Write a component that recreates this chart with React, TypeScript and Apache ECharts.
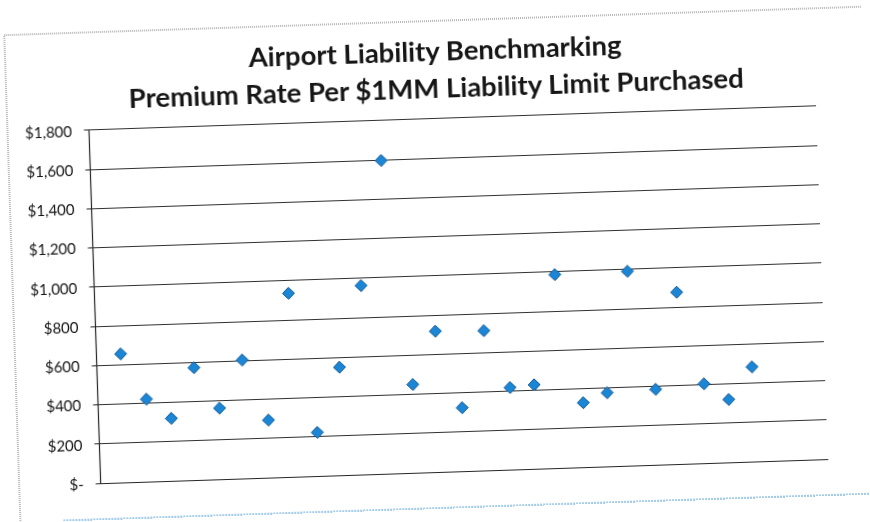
import React, { useEffect, useRef } from "react";
import * as echarts from "echarts";

// Airport sequence number on the (hidden) horizontal value axis
const airportIndex = [
  1, 2, 3, 4, 5, 6, 7, 8, 9, 10, 11, 12, 13, 14, 15, 16, 17, 18, 19, 20, 21,
  22, 23, 24, 25, 26, 27,
];

// Premium rate per $1MM of liability limit purchased
const premiumRate = [
  655, 420, 318, 572, 362, 603, 293, 935, 222, 550, 962, 1595, 450, 717, 323,
  712, 418, 428, 985, 328, 375, 990, 384, 875, 404, 320, 482,
];

// Accounting-style tick labels for 0..1800 step 200
const yTickLabels = [
  "$-",
  "$200",
  "$400",
  "$600",
  "$800",
  "$1,000",
  "$1,200",
  "$1,400",
  "$1,600",
  "$1,800",
];

const titleLines = [
  "Airport Liability Benchmarking",
  "Premium Rate Per $1MM Liability Limit Purchased",
];

export default function App() {
  const ref = useRef<HTMLDivElement>(null);

  useEffect(() => {
    if (!ref.current) return;
    const chart = echarts.init(ref.current, undefined, { renderer: "svg" });
    const font = "Lato, 'Open Sans', sans-serif";

    chart.setOption({
      animation: false,
      backgroundColor: "#ffffff",
      graphic: [
        {
          type: "rect",
          silent: true,
          z: -10,
          shape: { x: 12, y: 21, width: 860, height: 600 },
          style: {
            fill: "none",
            stroke: "#6d6d6d",
            lineWidth: 1,
            lineDash: [1, 1],
          },
        },
        {
          type: "line",
          silent: true,
          z: -10,
          shape: { x1: 55, y1: 508, x2: 900, y2: 508 },
          style: { stroke: "#4a9ad8", lineWidth: 1.2, lineDash: [2, 1] },
        },
        {
          type: "text",
          x: 442,
          y: 50,
          style: {
            text: titleLines[0],
            align: "center",
            verticalAlign: "middle",
            font: `bold 27.5px ${font}`,
            fill: "#161616",
          },
        },
        {
          type: "text",
          x: 442,
          y: 87,
          style: {
            text: titleLines[1],
            align: "center",
            verticalAlign: "middle",
            font: `bold 27.5px ${font}`,
            fill: "#161616",
          },
        },
      ],
      grid: { left: 93.5, top: 118.6, right: 49, bottom: 50 },
      xAxis: {
        type: "value",
        min: 0,
        max: 30,
        axisLine: { show: true, lineStyle: { color: "#262626", width: 1.2 } },
        axisTick: { show: false },
        axisLabel: { show: false },
        splitLine: { show: false },
      },
      yAxis: {
        type: "value",
        min: 0,
        max: 1800,
        interval: 200,
        axisLine: { show: true, lineStyle: { color: "#262626", width: 1.2 } },
        axisTick: { show: true, length: 5, lineStyle: { color: "#262626" } },
        axisLabel: {
          margin: 17,
          color: "#141414",
          fontFamily: font,
          fontSize: 15,
          formatter: (v: number) => yTickLabels[Math.round(v / 200)] ?? "",
        },
        splitLine: { show: true, lineStyle: { color: "#303030", width: 1.1 } },
      },
      series: [
        {
          type: "scatter",
          symbol: "diamond",
          symbolSize: 12,
          itemStyle: {
            color: "#1b86d6",
            borderColor: "#14588f",
            borderWidth: 1,
            opacity: 1,
          },
          data: airportIndex.map((x, i) => [x, premiumRate[i]]),
        },
      ],
    });

    return () => chart.dispose();
  }, []);

  return (
    <div
      ref={ref}
      style={{
        position: "fixed",
        left: 0,
        top: 0,
        width: 870,
        height: 522,
        transform: "rotate(-1.9deg)",
        transformOrigin: "435px 261px",
      }}
    />
  );
}
